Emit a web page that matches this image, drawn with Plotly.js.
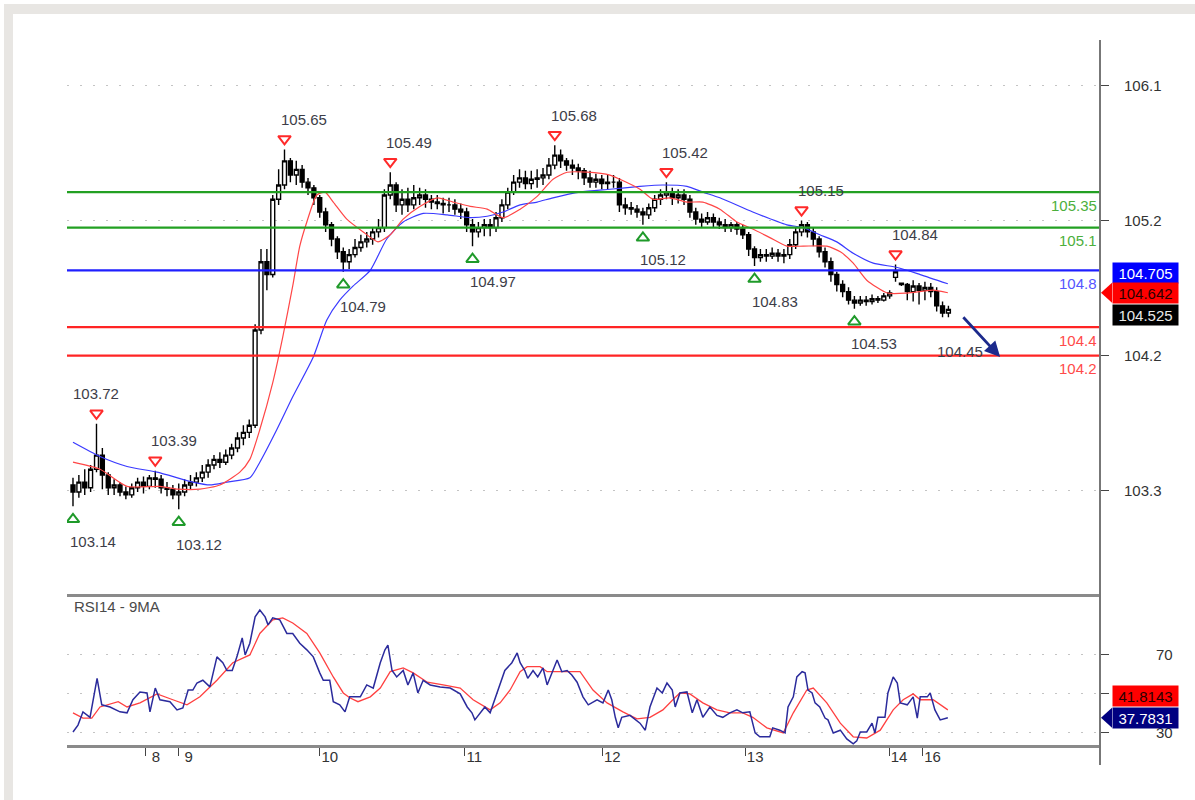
<!DOCTYPE html>
<html><head><meta charset="utf-8">
<script src="https://cdn.plot.ly/plotly-3.0.1.min.js"></script>
<style>
html,body{margin:0;padding:0;background:#fff;}
#bandTop{position:absolute;left:4px;top:4px;width:1191px;height:10px;background:#e8e6e3;}
#bandLeft{position:absolute;left:4px;top:4px;width:9px;height:796px;background:#e8e6e3;}
#chart{position:absolute;left:0;top:0;width:1195px;height:800px;}
</style></head>
<body>
<div id="bandTop"></div><div id="bandLeft"></div>
<div id="chart"></div>
<script>
// ---------- DATA ----------
const dayLabels = ['8','9','10','11','12','13','14','16'];
const dayTickPos = [12.4, 18, 42, 66.6, 90.1, 114.4, 138.9, 144.6];

const opens = [
103.29,103.24,103.31,103.27,103.40,103.50,103.36,103.27,103.29,103.24,
103.22,103.27,103.31,103.28,103.34,103.33,103.27,103.26,103.22,103.24,
103.29,103.31,103.34,103.38,103.43,103.47,103.45,103.50,103.55,103.62,
103.66,103.71,104.38,104.86,104.77,105.30,105.40,105.57,105.47,105.51,
105.42,105.38,105.31,105.21,105.12,105.02,104.93,104.86,104.91,104.96,
105.00,105.02,105.07,105.10,105.33,105.40,105.26,105.30,105.26,105.31,
105.33,105.30,105.28,105.27,105.26,105.26,105.23,105.21,105.12,105.07,
105.10,105.12,105.10,105.17,105.26,105.35,105.42,105.45,105.41,105.44,
105.45,105.47,105.54,105.61,105.57,105.54,105.52,105.50,105.45,105.42,
105.44,105.41,105.42,105.42,105.26,105.24,105.23,105.21,105.19,105.24,
105.30,105.33,105.35,105.31,105.33,105.30,105.21,105.16,105.14,105.17,
105.14,105.12,105.10,105.12,105.09,105.05,104.95,104.89,104.91,104.90,
104.92,104.90,104.91,104.98,105.07,105.12,105.07,105.02,104.93,104.86,
104.77,104.70,104.65,104.59,104.57,104.59,104.58,104.60,104.59,104.62,
104.75,104.71,104.70,104.65,104.69,104.66,104.68,104.65,104.55,104.50];
const highs = [
103.34,103.36,103.40,103.43,103.72,103.55,103.38,103.33,103.31,103.28,
103.30,103.34,103.35,103.36,103.39,103.36,103.31,103.29,103.30,103.33,
103.36,103.38,103.43,103.47,103.50,103.52,103.54,103.58,103.66,103.71,
103.75,104.42,104.95,104.95,105.33,105.51,105.65,105.59,105.57,105.54,
105.45,105.40,105.33,105.24,105.14,105.04,104.96,104.95,105.02,105.05,
105.07,105.10,105.16,105.37,105.49,105.42,105.37,105.38,105.40,105.38,
105.37,105.33,105.33,105.31,105.31,105.30,105.27,105.24,105.16,105.14,
105.16,105.16,105.21,105.30,105.38,105.47,105.51,105.50,105.50,105.51,
105.52,105.59,105.68,105.65,105.59,105.58,105.55,105.52,105.50,105.48,
105.47,105.47,105.47,105.45,105.31,105.28,105.26,105.24,105.27,105.33,
105.37,105.42,105.38,105.37,105.37,105.33,105.24,105.20,105.21,105.20,
105.17,105.16,105.14,105.14,105.12,105.07,104.97,104.95,104.95,104.96,
104.95,104.95,105.02,105.10,105.15,105.14,105.10,105.04,104.96,104.89,
104.79,104.73,104.68,104.62,104.62,104.62,104.63,104.62,104.64,104.66,
104.84,104.71,104.71,104.73,104.71,104.72,104.71,104.68,104.58,104.55];
const lows = [
103.14,103.20,103.22,103.24,103.38,103.26,103.22,103.22,103.21,103.19,
103.20,103.24,103.23,103.26,103.27,103.23,103.21,103.19,103.12,103.21,
103.26,103.28,103.31,103.34,103.40,103.41,103.43,103.47,103.52,103.57,
103.62,103.69,104.35,104.66,104.75,105.26,105.37,105.42,105.40,105.38,
105.33,105.26,105.17,105.07,104.97,104.88,104.79,104.81,104.89,104.93,
104.96,104.98,105.03,105.07,105.30,105.21,105.19,105.21,105.23,105.26,
105.24,105.23,105.23,105.20,105.21,105.19,105.16,105.07,104.97,105.03,
105.04,105.04,105.07,105.14,105.23,105.33,105.38,105.37,105.37,105.38,
105.40,105.44,105.51,105.52,105.50,105.47,105.44,105.40,105.38,105.38,
105.37,105.37,105.38,105.21,105.19,105.19,105.17,105.12,105.16,105.21,
105.26,105.30,105.26,105.27,105.26,105.17,105.12,105.10,105.12,105.10,
105.09,105.07,105.07,105.05,105.02,104.90,104.83,104.86,104.86,104.88,
104.86,104.85,104.88,104.95,105.04,105.03,104.97,104.89,104.82,104.72,
104.65,104.61,104.56,104.53,104.55,104.55,104.56,104.57,104.58,104.60,
104.72,104.69,104.59,104.58,104.56,104.59,104.61,104.51,104.47,104.47];
const closes = [
103.24,103.31,103.27,103.40,103.50,103.36,103.27,103.29,103.24,103.22,
103.27,103.31,103.28,103.34,103.33,103.27,103.26,103.22,103.24,103.29,
103.31,103.34,103.38,103.43,103.47,103.45,103.50,103.55,103.62,103.66,
103.71,104.38,104.86,104.77,105.30,105.40,105.57,105.47,105.51,105.42,
105.38,105.31,105.21,105.12,105.02,104.93,104.86,104.91,104.96,105.00,
105.02,105.07,105.10,105.33,105.40,105.26,105.30,105.26,105.31,105.33,
105.30,105.28,105.27,105.26,105.26,105.23,105.21,105.12,105.07,105.10,
105.12,105.10,105.17,105.26,105.35,105.42,105.45,105.41,105.44,105.45,
105.47,105.54,105.61,105.57,105.54,105.52,105.50,105.45,105.42,105.44,
105.41,105.42,105.42,105.26,105.24,105.23,105.21,105.19,105.24,105.30,
105.33,105.35,105.31,105.33,105.30,105.21,105.16,105.14,105.17,105.14,
105.12,105.10,105.12,105.09,105.05,104.95,104.89,104.91,104.90,104.92,
104.90,104.91,104.98,105.07,105.12,105.07,105.02,104.93,104.86,104.77,
104.70,104.65,104.59,104.57,104.59,104.58,104.60,104.59,104.62,104.64,
104.79,104.70,104.65,104.69,104.66,104.68,104.65,104.55,104.50,104.525];

const maFastX = [0,4.6,9.2,14.8,17.9,21.6,25,28.4,30.1,31.8,34,35.7,37.4,38.6,39.8,41.5,42.9,44.3,46.6,49.4,
51.9,54,56.2,59.1,62,64.7,67.6,70.5,73.2,76.1,79,81.7,84.1,87.5,91.4,93.1,96.5,98.7,101.6,104.5,
107.2,110.1,113,115.7,118.6,121.5,124.3,128.3,130.6,132.8,135.1,138.6,142,146.4,148.9];
const maFastY = [103.45,103.40,103.28,103.28,103.26,103.26,103.29,103.38,103.47,103.68,104.01,104.33,104.69,104.97,105.14,105.33,105.35,105.28,105.16,105.07,
105.00,105.05,105.16,105.25,105.31,105.28,105.25,105.23,105.17,105.23,105.32,105.44,105.49,105.49,105.47,105.44,105.37,105.30,105.31,105.28,
105.28,105.23,105.14,105.09,105.03,104.97,104.97,104.97,104.93,104.85,104.73,104.64,104.64,104.66,104.642];

const maSlowX = [0,4.6,9.2,14.3,20.4,23.3,26.2,30.1,31.8,34.7,37.4,40.9,43.2,45.4,47.7,50.6,53.4,56.2,59.6,63.7,
67.6,70.5,73.2,76.1,79,81.7,86.3,91.4,96.5,100.4,104.5,107.2,110.1,115.7,121.5,124.3,127.1,130,132.8,136.2,
140.3,144.2,148.9];
const maSlowY = [103.59,103.49,103.42,103.38,103.31,103.29,103.31,103.34,103.45,103.68,103.91,104.19,104.45,104.59,104.69,104.80,105.02,105.14,105.20,105.19,
105.17,105.18,105.21,105.26,105.28,105.31,105.35,105.37,105.39,105.40,105.39,105.35,105.31,105.21,105.12,105.10,105.05,105.00,104.92,104.85,
104.82,104.77,104.705];

const levels = [105.35, 105.1, 104.8, 104.4, 104.2];

const hiIdx = [4, 14, 36, 54, 82, 101, 124, 140];
const hiVal = [103.72, 103.39, 105.65, 105.49, 105.68, 105.42, 105.15, 104.84];
const loIdx = [0, 18, 46, 68, 97, 116, 133];
const loVal = [103.14, 103.12, 104.79, 104.97, 105.12, 104.83, 104.53];

const target = {value: 104.45, at: 151, level: 104.2};
const arrowPath = {x: [151.3, 157.8], y: [104.48, 104.19]};

const priceTicks = [103.25, 104.2, 105.15, 106.1];
const priceTickText = ['103.3', '104.2', '105.2', '106.1'];

const rsiX = [0,0.85,1.7,2.9,4.1,4.9,6.3,8,9.2,10.2,11.4,12.6,13.1,14,14.8,16.5,17.7,18.7,19.6,20.4,
21.1,22.1,23.3,24.5,25.5,26.2,27.1,27.9,28.8,29.3,30.1,31,31.8,32.7,33.2,34,35.2,36.4,37.4,38.6,
39.8,40.9,42,42.6,43.7,44.3,45.4,46.3,47.1,48.9,50,51.1,52.3,53.1,53.6,54.3,55.1,56.2,57,57.9,
58.7,59.6,60.8,62.5,64.2,65.9,67.1,67.9,68.4,69.3,70.1,71,71.8,72.7,73.5,74.7,75.6,76.1,76.9,77.4,
78.3,79.1,80,80.7,81.5,82.4,83.2,84.1,84.9,85.8,86.8,87.7,89.2,90.2,91.1,91.7,92.3,92.8,93.4,94.8,
96.5,97.4,98.2,99.4,100.3,101.1,102,102.5,103.3,104.5,105.4,106.2,107.2,108.4,109.6,110.6,111.8,113,114,115.2,
116.1,116.9,118.6,119.1,120.3,121.2,121.7,122.6,123.2,124.1,124.6,125.1,125.8,126.3,127.1,128,128.5,129.4,130.6,131.7,
132.8,133.4,134,135.1,136,136.5,137,138.2,138.7,139.6,140.3,140.8,142,143,143.7,144.2,145.4,145.9,146.7,147.6,148.9];
const rsiV = [30.5,34,40.8,38,58,44.4,43.3,40.8,40.3,47,51,50.5,40.8,53,47,46,41.8,42.8,52,52,
55.6,57,53.6,69,66,62,62,69,78.7,70,76,89.5,93,89.5,85.4,89,88,81,81,76,
72.6,69,60.8,57,57,46,44.4,40.8,48.5,48.5,54.6,53,66,72.6,75,62,58.7,62,54.6,60.8,
50.5,57,54.6,53.6,53,50,43.3,40.3,36.7,40.3,43.3,40.3,47,55.6,62,66,71,66,62,58,
62,58.7,63.3,54.6,60.8,67.4,61.4,62,59.7,56,48.5,44.4,47,45.4,52,47,38,32.6,38,39,
35,31.4,43.3,53,50.5,55.6,52,43.3,50.5,51,40.3,47,38,43.3,39,38,40.3,41.8,40.3,40.8,
30,28,28,32.6,31.4,30,43.3,48.5,58.7,61.4,60.8,52,50.5,45.4,43.3,37.6,36.7,30,31.4,26.9,
24.4,25.9,30.5,30.5,35,30,38,38,50.5,58.7,55.6,45.4,44.4,48.5,37.6,48.5,48.5,50.5,41.8,36.7,37.7831];

const rsiMaX = [0,1.7,3.2,4.6,7.7,9.2,11.4,14.3,17,19.4,21.6,24.5,27.2,30.1,31.8,34,35.7,37.4,39.8,42,
44.3,46,47.1,48.5,50.6,52.3,54,56.2,57.9,60.3,63,65.9,68.1,71,72.7,74.4,76.1,77.3,79.5,80.7,
84.1,86.3,88.5,90.9,93.6,96,98.2,100.4,102.1,103.3,105,107.2,109.6,111.8,114,115.7,118.1,120.9,122.6,124.9,
126,128.3,130.6,132.8,135.1,137.4,139.6,141.3,143,144.2,146.4,148.9];
const rsiMaV = [40.3,37.6,37.6,43.3,46,43.3,45.4,50,47,44.4,48.5,57,66,70,81,88,89,86.4,81,71,
58.7,50.5,48,46,48.5,53,61.4,63.3,60.8,56,54.6,53,47,41.8,45.4,52,61.4,64,64,61.4,
61.4,61.4,52,45.4,40.8,37.2,38,41.8,47,50.5,50,45.4,41.8,40.3,40.3,38,32.6,30,40.3,52,
53,45.4,35,28,27.4,31.4,41.8,47,50,47,47,41.8143];

// ---------- LAYOUT HELPERS ----------
const W = 1195, H = 800;
const X0 = 67 / W, X1 = 1100 / W;
const FONT = 'Liberation Sans, Arial, sans-serif';
const TXT = '#3d3d48';
const levelColors = ['#22a022', '#22a022', '#1f1fff', '#ff2424', '#ff2424'];
const levelTextColors = ['#4caf3c', '#4caf3c', '#5555ff', '#ff4a4a', '#ff4a4a'];
const pricePerPx = (106.42 - 102.53) / (593 - 40);
const rsiPerPx = (99.7 - 23.8) / (745 - 597);

const barX = closes.map((_, i) => i);

const traces = [
  {type: 'candlestick', x: barX, open: opens, high: highs, low: lows, close: closes,
   xaxis: 'x', yaxis: 'y',
   increasing: {line: {color: '#000', width: 1.4}, fillcolor: '#ffffff'},
   decreasing: {line: {color: '#000', width: 1.4}, fillcolor: '#000000'},
   whiskerwidth: 0, hoverinfo: 'skip'},
  {type: 'scatter', mode: 'lines', x: maSlowX, y: maSlowY, xaxis: 'x', yaxis: 'y',
   line: {color: '#3a3aff', width: 1.2, shape: 'spline', smoothing: 0.6}},
  {type: 'scatter', mode: 'lines', x: maFastX, y: maFastY, xaxis: 'x', yaxis: 'y',
   line: {color: '#ff4646', width: 1.2, shape: 'spline', smoothing: 0.6}},
  {type: 'scatter', mode: 'markers', x: hiIdx, y: hiVal.map(v => v + 10.5 * pricePerPx),
   xaxis: 'x', yaxis: 'y',
   marker: {symbol: 'triangle-down-open', size: 11, color: '#ff2a2a', line: {width: 2, color: '#ff2a2a'}}},
  {type: 'scatter', mode: 'markers', x: loIdx, y: loVal.map(v => v - 13 * pricePerPx),
   xaxis: 'x', yaxis: 'y',
   marker: {symbol: 'triangle-up-open', size: 11, color: '#1f9a2a', line: {width: 2, color: '#1f9a2a'}}},
  {type: 'scatter', mode: 'lines', x: rsiMaX, y: rsiMaV, xaxis: 'x', yaxis: 'y2',
   line: {color: '#ff4040', width: 1.3}},
  {type: 'scatter', mode: 'lines', x: rsiX, y: rsiV, xaxis: 'x', yaxis: 'y2',
   line: {color: '#2b2b9c', width: 1.5}}
];

const shapes = [];
levels.forEach((lv, k) => {
  shapes.push({type: 'line', xref: 'paper', yref: 'y', x0: X0, x1: X1, y0: lv, y1: lv,
               line: {color: levelColors[k], width: 2.2}});
});
// right axis line through both panels
shapes.push({type: 'line', xref: 'paper', yref: 'paper', x0: X1, x1: X1, y0: 1 - 765 / H, y1: 1 - 40 / H,
             line: {color: '#777', width: 2}});

const lastRed = maFastY[maFastY.length - 1];
const lastBlue = maSlowY[maSlowY.length - 1];
const lastClose = closes[closes.length - 1];
const lastRsi = rsiV[rsiV.length - 1];
const lastRsiMa = rsiMaV[rsiMaV.length - 1];

const tipX = 1101 / W, baseX = 1112 / W;
shapes.push({type: 'path', xref: 'paper', yref: 'y', fillcolor: '#ff0000', line: {width: 0},
  path: `M ${tipX},${lastRed} L ${baseX},${lastRed + 10 * pricePerPx} L ${baseX},${lastRed - 10 * pricePerPx} Z`});
shapes.push({type: 'path', xref: 'paper', yref: 'y2', fillcolor: '#000080', line: {width: 0},
  path: `M ${tipX},${lastRsi} L ${baseX},${lastRsi + 10 * rsiPerPx} L ${baseX},${lastRsi - 10 * rsiPerPx} Z`});

const ann = [];
hiIdx.forEach((ix, k) => {
  ann.push({x: ix, y: hiVal[k], xref: 'x', yref: 'y', text: hiVal[k].toFixed(2), showarrow: false,
            xanchor: k === 0 ? 'center' : 'left', xshift: k === 0 ? 0 : -6, yshift: 30,
            font: {family: FONT, size: 15, color: TXT}});
});
loIdx.forEach((ix, k) => {
  ann.push({x: ix, y: loVal[k], xref: 'x', yref: 'y', text: loVal[k].toFixed(2), showarrow: false,
            xanchor: 'left', xshift: -5, yshift: -35,
            font: {family: FONT, size: 15, color: TXT}});
});
levels.forEach((lv, k) => {
  ann.push({x: 1099 / W, xref: 'paper', y: lv, yref: 'y', text: String(lv), showarrow: false,
            xanchor: 'right', yanchor: 'middle', yshift: -13,
            font: {family: FONT, size: 15, color: levelTextColors[k]}});
});
ann.push({x: target.at, y: target.level, xref: 'x', yref: 'y', text: target.value.toFixed(2), showarrow: false,
          yshift: 4, font: {family: FONT, size: 15, color: TXT}});
ann.push({x: arrowPath.x[1], y: arrowPath.y[1], ax: arrowPath.x[0], ay: arrowPath.y[0],
          xref: 'x', yref: 'y', axref: 'x', ayref: 'y', text: '', showarrow: true,
          arrowhead: 2, arrowsize: 1.1, arrowwidth: 2.8, arrowcolor: '#1c2a8c', standoff: 0});
ann.push({x: 72 / W, y: 1 - 606 / H, xref: 'paper', yref: 'paper', text: 'RSI14 - 9MA', showarrow: false,
          xanchor: 'left', yanchor: 'middle', font: {family: FONT, size: 15, color: '#4a4a4a'}});

function box(val, digits, yref, yshift, bg, fg) {
  return {x: 1112 / W, xref: 'paper', xanchor: 'left', y: val, yref: yref, yanchor: 'middle', yshift: yshift,
          text: val.toFixed(digits), showarrow: false, bgcolor: bg, width: 63, height: 18, borderpad: 1,
          align: 'center', font: {family: FONT, size: 15, color: fg}};
}
ann.push(box(lastBlue, 3, 'y', 11, '#0000ff', '#ffffff'));
ann.push(box(lastRed, 3, 'y', 0, '#ff0000', '#2a0000'));
ann.push(box(lastClose, 3, 'y', -6, '#000000', '#e8e8e8'));
ann.push(box(lastRsiMa, 4, 'y2', 14, '#ff0000', '#2a0000'));
ann.push(box(lastRsi, 4, 'y2', 0, '#000080', '#ffffff'));

const layout = {
  width: W, height: H, margin: {l: 0, r: 0, t: 0, b: 0},
  paper_bgcolor: 'rgba(0,0,0,0)', plot_bgcolor: 'rgba(0,0,0,0)',
  showlegend: false, font: {family: FONT, color: '#333'},
  boxgap: 0.05,
  xaxis: {domain: [X0, X1], range: [-1.02, 174.8], anchor: 'y2',
          tickmode: 'array', tickvals: dayTickPos, ticktext: dayLabels,
          ticks: 'outside', ticklen: 8, tickwidth: 1, tickcolor: '#444',
          showgrid: false, zeroline: false, showline: true, linecolor: '#8a8a8a', linewidth: 3, mirror: true,
          rangeslider: {visible: false}, tickfont: {family: FONT, size: 15, color: '#333'},
          ticklabelshift: 10, ticklabelstandoff: -12},
  yaxis: {domain: [1 - 593 / H, 1 - 40 / H], range: [102.53, 106.42], side: 'right', anchor: 'x',
          tickmode: 'array', tickvals: priceTicks, ticktext: priceTickText,
          ticks: 'outside', ticklen: 8, tickcolor: '#444', showgrid: true, gridcolor: '#c4c4c4',
          griddash: '2px,11px', gridwidth: 1, zeroline: false, showline: false,
          tickfont: {family: FONT, size: 15, color: '#333'}, ticklabelstandoff: 12},
  yaxis2: {domain: [1 - 745 / H, 1 - 597 / H], range: [23.8, 99.7], side: 'right', anchor: 'x',
           tickmode: 'array', tickvals: [30, 50, 70], ticktext: ['30', '', '70'],
           ticks: 'outside', ticklen: 8, tickcolor: '#444', showgrid: true, gridcolor: '#c4c4c4',
           griddash: '2px,11px', gridwidth: 1, zeroline: false, showline: false,
           tickfont: {family: FONT, size: 15, color: '#333'}, ticklabelstandoff: 44},
  shapes: shapes, annotations: ann
};

Plotly.newPlot('chart', traces, layout, {staticPlot: true, displayModeBar: false});
</script>
</body></html>
